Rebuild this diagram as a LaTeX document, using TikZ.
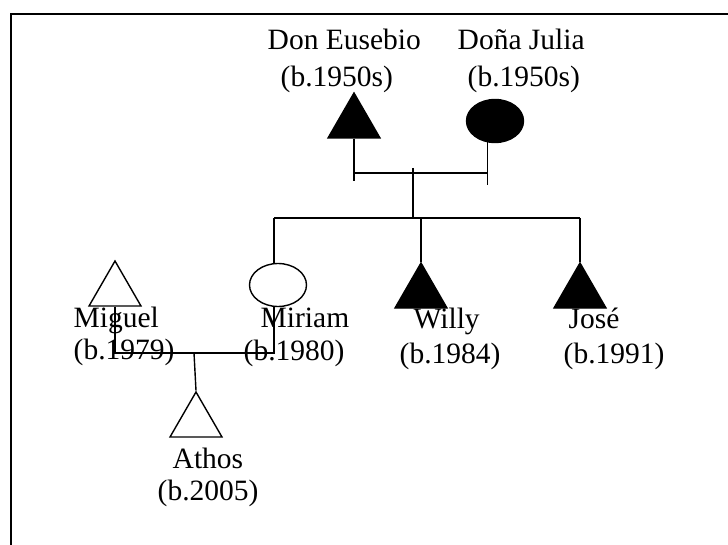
\documentclass[tikz,border=0pt]{standalone}
\usepackage{fontspec}
\setmainfont{Liberation Serif}
\usetikzlibrary{shapes.geometric}
\newcommand*\symsize{60pt}
\tikzset{
    male/.style={
        regular polygon,
        regular polygon sides=3,
        minimum size=\symsize,
        inner sep=0pt,
        draw,
        line width=1.4pt
    },
    female/.style={
        ellipse,
        minimum width=57pt,
        minimum height=43pt,
        inner sep=0pt,
        draw,
        line width=1.4pt
    },
    affected/.style={fill=black},
    who/.style={
        anchor=base west,
        inner sep=0pt,
        font=\fontsize{29.5}{33}\selectfont
    }
}

\begin{document}
\begin{tikzpicture}[x=1pt,y=-1pt,line width=1.4pt]
    \useasboundingbox (0,0) rectangle (728,545);

    % Frame, only its top and left edges are in the picture.
    \draw[line width=2pt] (11,545) -- (11,14) -- (728,14);

    % First the parents.
    \node[male,affected] (eusebio) at (354,123) {};
    \node[female,affected] (julia) at (495,121) {};
    \node[who] (eusebio-n) at (267,50) {Don Eusebio};
    \node[who] (eusebio-y) at (280,87) {(b.1950s)};
    \node[who] (julia-n) at (457,50) {Doña Julia};
    \node[who] (julia-y) at (467,87) {(b.1950s)};

    % Their children.
    \node[female] (miriam) at (278,285) {};
    \node[male,affected] (willy) at (421,293) {};
    \node[male,affected] (jose) at (580,293) {};
    \node[who] (miriam-n) at (260,327) {Miriam};
    \node[who] (miriam-y) at (243,360) {(b.1980)};
    \node[who] (willy-n) at (413,328) {Willy};
    \node[who] (willy-y) at (399,363) {(b.1984)};
    \node[who] (jose-n) at (568,328) {José};
    \node[who] (jose-y) at (563,363) {(b.1991)};

    % Miriam's partner and son.
    \node[male] (miguel) at (115,291) {};
    \node[male] (athos) at (196,422) {};
    \node[who] (miguel-n) at (73,327) {Miguel};
    \node[who] (miguel-y) at (73,359) {(b.1979)};
    \node[who] (athos-n) at (172,468) {Athos};
    \node[who] (athos-y) at (157,500) {(b.2005)};

    % Lines of descent. The x of a line comes from its node, the y from
    % the coordinates below.
    \coordinate (mar) at (413,173);
    \coordinate (sib) at (413,218);
    \coordinate (mar2) at (194,353);

    \draw (eusebio.side 2) -- ++(0,42);
    \draw (julia.250) -- ++(0,43);
    \draw (eusebio.side 2 |- mar) -- (julia.250 |- mar);
    \draw ([yshift=5pt]mar) -- (sib);
    \draw (miriam.100 |- sib) -- (jose.corner 1 |- sib);
    \draw (miriam.100 |- sib) -- (miriam.100);
    \draw (willy.corner 1 |- sib) -- (willy.corner 1);
    \draw (jose.corner 1 |- sib) -- (jose.corner 1);

    \draw (miguel.side 2) -- (miguel.side 2 |- mar2) -- (miriam.260 |- mar2) -- (miriam.260);
    \draw (mar2) -- (athos.corner 1);
\end{tikzpicture}
\end{document}
